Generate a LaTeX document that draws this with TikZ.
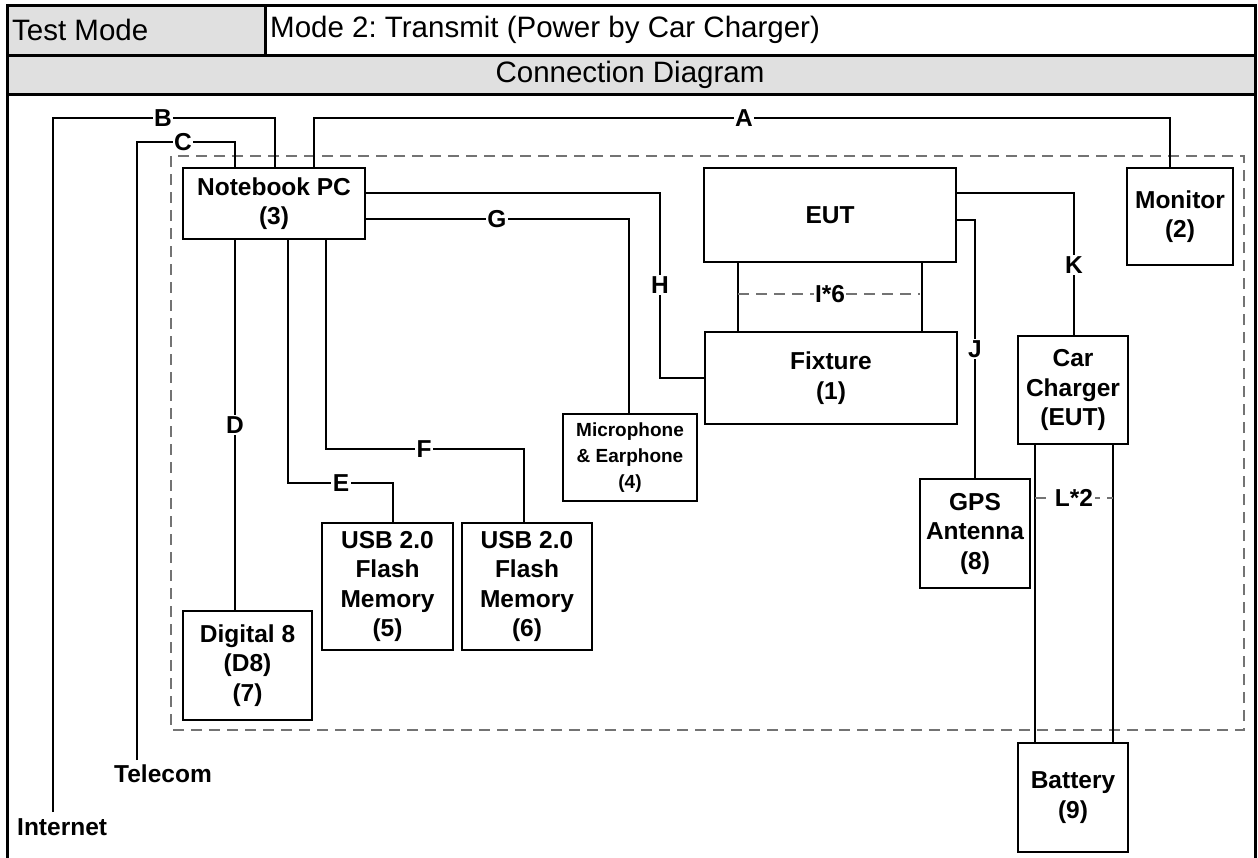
\documentclass[tikz,border=0pt]{standalone}
\usepackage{fontspec}
\setmainfont{Liberation Sans}
\frenchspacing
\newcommand{\boxfont}{\fontsize{24.5}{29.5}\selectfont\bfseries}
\newcommand{\smallboxfont}{\fontsize{19}{26}\selectfont\bfseries}
\newcommand{\hdrfont}{\fontsize{29.5}{33}\selectfont}
\begin{document}
\begin{tikzpicture}[x=1pt,y=-1pt,
  box/.style={draw,line width=1.2pt,fill=white,align=center,inner sep=0pt,font=\boxfont},
  wire/.style={line width=1.3pt},
  dashline/.style={line width=1.2pt,draw=black!55,dash pattern=on 11pt off 7pt},
  lbl/.style={fill=white,inner sep=1.5pt,font=\boxfont},
  framel/.style={line width=3pt},
  hdr/.style={fill=black!12}]
\useasboundingbox (0,0) rectangle (1258,857);
% header
\fill[hdr] (7,5) rectangle (265,55);
\fill[hdr] (7,55) rectangle (1255,94);
\draw[framel] (7,5) rectangle (1255,880);
\draw[framel] (7,55) -- (1255,55);
\draw[framel] (7,94) -- (1255,94);
\draw[framel] (265,5) -- (265,55);
\node[anchor=west,inner sep=0pt,font=\hdrfont] (tm) at (12,30) {Test Mode};
\node[anchor=west,inner sep=0pt,font=\hdrfont] (md) at (270,30) {Mode 2: Transmit (Power by Car Charger)};
\node[inner sep=0pt,font=\hdrfont] (cd) at (630,75) {Connection Diagram};
% dashed enclosure
\draw[dashline] (171,156) rectangle (1244,730);
% boxes
\node[box,minimum width=182pt,minimum height=71pt] (nb) at (274,203.5) {Notebook PC\\(3)};
\node[box,minimum width=252pt,minimum height=94pt] (eut) at (830,215) {EUT};
\node[box,minimum width=106pt,minimum height=97pt] (mon) at (1180,216.5) {Monitor\\(2)};
\node[box,minimum width=252pt,minimum height=92pt] (fix) at (831,378) {Fixture\\(1)};
\node[box,minimum width=110pt,minimum height=108pt] (cc) at (1073,390) {Car\\Charger\\(EUT)};
\node[box,font=\smallboxfont,minimum width=134pt,minimum height=87pt] (mic) at (630,457.5) {Microphone\\\& Earphone\\(4)};
\node[box,minimum width=110pt,minimum height=109pt] (gps) at (975,533.5) {GPS\\Antenna\\(8)};
\node[box,minimum width=131pt,minimum height=127pt] (usb5) at (387.5,586.5) {USB 2.0\\Flash\\Memory\\(5)};
\node[box,minimum width=130pt,minimum height=127pt] (usb6) at (527,586.5) {USB 2.0\\Flash\\Memory\\(6)};
\node[box,minimum width=129pt,minimum height=109pt] (d8) at (247.5,665.5) {Digital 8\\(D8)\\(7)};
\node[box,minimum width=110pt,minimum height=109pt] (bat) at (1073,797.5) {Battery\\(9)};
% free ends
\coordinate (inet) at (53,812);
\coordinate (tel) at (137,760);
\node[anchor=west,inner sep=0pt,font=\boxfont] (inettxt) at (17,827) {Internet};
\node[inner sep=0pt,font=\boxfont] (teltxt) at (163,774) {Telecom};
% connectors
\draw[wire] (314,0 |- nb.north) |- (1170,118) -- (1170,0 |- mon.north);
\draw[wire] (inet) |- (275,118) -- (275,0 |- nb.north);
\draw[wire] (tel) |- (235,142) -- (235,0 |- nb.north);
\draw[wire] (235,0 |- nb.south) -- (235,0 |- d8.north);
\draw[wire] (288,0 |- nb.south) |- (393,483) -- (393,0 |- usb5.north);
\draw[wire] (326,0 |- nb.south) |- (524,449) -- (524,0 |- usb6.north);
\draw[wire] (nb.east |- 0,219) -| (629,0 |- mic.north);
\draw[wire] (nb.east |- 0,193) -| (660,378) -- (fix.west |- 0,378);
\draw[wire] (738,0 |- eut.south) -- (738,0 |- fix.north);
\draw[wire] (922,0 |- eut.south) -- (922,0 |- fix.north);
\draw[dashline] (738,294) -- (920,294);
\draw[wire] (eut.east |- 0,220) -| (975,0 |- gps.north);
\draw[wire] (eut.east |- 0,193) -| (1074,0 |- cc.north);
\draw[wire] (1035,0 |- cc.south) -- (1035,0 |- bat.north);
\draw[wire] (1113,0 |- cc.south) -- (1113,0 |- bat.north);
\draw[dashline] (1035,498) -- (1113,498);
% labels
\node[lbl] (lA) at (744,118) {A};
\node[lbl] (lB) at (163,118) {B};
\node[lbl] (lC) at (183,142) {C};
\node[lbl] (lD) at (235,425) {D};
\node[lbl] (lE) at (341,483) {E};
\node[lbl] (lF) at (424,449) {F};
\node[lbl] (lG) at (497,219) {G};
\node[lbl] (lH) at (660,285) {H};
\node[lbl] (lI) at (830,294) {I*6};
\node[lbl] (lJ) at (975,349) {J};
\node[lbl] (lK) at (1074,265) {K};
\node[lbl] (lL) at (1074,498) {L*2};
\end{tikzpicture}
\end{document}
